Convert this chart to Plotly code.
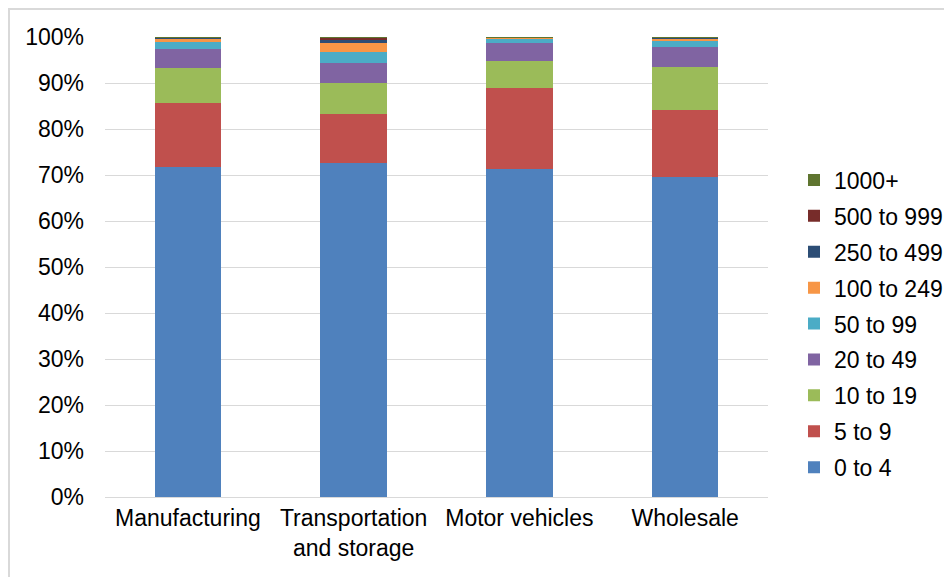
import plotly.graph_objects as go

categories = ["Manufacturing", "Transportation<br>and storage", "Motor vehicles", "Wholesale"]
series_names = ["0 to 4", "5 to 9", "10 to 19", "20 to 49", "50 to 99",
                "100 to 249", "250 to 499", "500 to 999", "1000+"]
v_0_4 = [71.7, 72.6, 71.3, 69.6]
v_5_9 = [13.9, 10.7, 17.6, 14.5]
v_10_19 = [7.7, 6.7, 5.9, 9.4]
v_20_49 = [4.2, 4.4, 3.8, 4.4]
v_50_99 = [1.4, 2.4, 1.0, 1.3]
v_100_249 = [0.7, 2.0, 0.3, 0.4]
v_250_499 = [0.2, 0.7, 0.05, 0.2]
v_500_999 = [0.1, 0.3, 0.03, 0.1]
v_1000 = [0.1, 0.2, 0.02, 0.1]
series_values = [v_0_4, v_5_9, v_10_19, v_20_49, v_50_99, v_100_249, v_250_499, v_500_999, v_1000]
colors = ["#4F81BD", "#C0504D", "#9BBB59", "#8064A2", "#4BACC6",
          "#F79646", "#2C4D75", "#772C2A", "#5F7530"]

FONT = "Liberation Sans, Arial, sans-serif"
FS = 23

fig = go.Figure()
for i, (name, vals, col) in enumerate(zip(series_names, series_values, colors)):
    fig.add_trace(go.Bar(name=name, x=categories, y=vals, marker_color=col,
                         marker_line_width=0, legendgroup=name,
                         legendrank=100 - i, width=0.4))

W, H = 952, 577
L, R, T, B = 97, 192, 29, 88
pw, ph = W - L - R, H - T - B

def px_x(p):
    return (p - L) / pw

def px_y(p):
    return (H - B - p) / ph

fig.update_layout(
    width=W, height=H,
    barmode="stack",
    margin=dict(l=L, r=R, t=T, b=B),
    paper_bgcolor="white", plot_bgcolor="white",
    font=dict(family=FONT, size=FS, color="#000000"),
    showlegend=True,
    legend=dict(traceorder="grouped", tracegroupgap=3,
                x=px_x(786), xanchor="left", y=px_y(316), yanchor="middle",
                font=dict(family=FONT, size=FS, color="#000000"),
                bgcolor="rgba(0,0,0,0)", itemwidth=30),
    xaxis=dict(showgrid=False, showline=True, linecolor="#d9d9d9", linewidth=1,
               ticks="", tickfont=dict(family=FONT, size=FS)),
    yaxis=dict(range=[0, 100], dtick=10, ticksuffix="%", showgrid=True,
               gridcolor="#d9d9d9", gridwidth=1, zeroline=False, showline=False,
               ticks="", ticklabelstandoff=20, tickfont=dict(family=FONT, size=FS)),
    shapes=[dict(type="rect", xref="paper", yref="paper",
                 x0=px_x(1), x1=px_x(970), y0=px_y(600), y1=px_y(1),
                 line=dict(color="#d9d9d9", width=2), fillcolor="rgba(0,0,0,0)",
                 layer="below")],
)

fig.write_html("out.html")
